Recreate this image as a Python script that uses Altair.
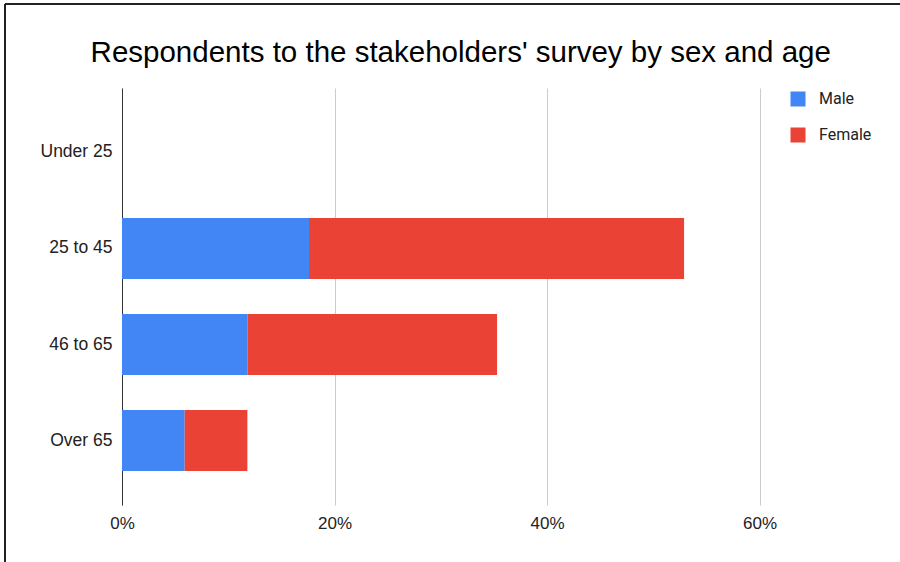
import altair as alt
import pandas as pd

ages = ["Under 25", "25 to 45", "46 to 65", "Over 65"]
male = [0.0, 0.176, 0.118, 0.059]
female = [0.0, 0.353, 0.235, 0.059]
sexes = ["Male", "Female"]
colors = ["#4285F4", "#EA4335"]
x_ticks = [0, 0.2, 0.4, 0.6]

rows = []
for i, a in enumerate(ages):
    rows.append({"age": a, "sex": "Male", "value": male[i], "ord": 0})
    rows.append({"age": a, "sex": "Female", "value": female[i], "ord": 1})
df = pd.DataFrame(rows)

FONT = "Liberation Sans"

bars = alt.Chart(df).mark_bar().encode(
    y=alt.Y("age:N", sort=ages, title=None,
            scale=alt.Scale(paddingInner=0.365, paddingOuter=0.354),
            axis=alt.Axis(domain=True, domainColor="#333333", domainWidth=1,
                          ticks=False, labelPadding=10, labelFontSize=17.5,
                          labelColor="#222222", labelFont=FONT, grid=False)),
    x=alt.X("value:Q", stack="zero", title=None,
            scale=alt.Scale(domain=[0, 0.6], nice=False),
            axis=alt.Axis(values=x_ticks, format=".0%", domain=False, ticks=False,
                          labelPadding=10, labelFontSize=17, labelColor="#222222",
                          labelFont=FONT, grid=True, gridColor="#cccccc",
                          gridWidth=1, labelFlush=False)),
    color=alt.Color("sex:N", sort=sexes,
                    scale=alt.Scale(domain=sexes, range=colors),
                    legend=alt.Legend(title=None, orient="none", legendX=668, legendY=3,
                                      symbolType="square", symbolSize=225,
                                      symbolStrokeWidth=0, labelFontSize=16,
                                      labelColor="#222222", labelFont="Roboto",
                                      labelOffset=13, rowPadding=20)),
    order=alt.Order("ord:Q"),
)

frame = alt.Chart(df).mark_rule(color="#222222", strokeWidth=2).encode(
    x=alt.value(-117), x2=alt.value(800), y=alt.value(-84)
) + alt.Chart(df).mark_rule(color="#222222", strokeWidth=2).encode(
    x=alt.value(-117), y=alt.value(-84), y2=alt.value(480)
)

chart = (bars + frame).properties(
    width=637.5, height=417,
    autosize=alt.AutoSizeParams(type="none"),
    padding={"left": 122, "top": 88, "right": 140, "bottom": 57},
    title=alt.TitleParams("Respondents to the stakeholders' survey by sex and age",
                          fontSize=29.5, font=FONT, fontWeight="normal",
                          color="#000000", anchor="middle", frame="group",
                          dx=20, dy=85, offset=20),
).configure(background="white").configure_view(stroke=None)

chart.save("out.html", embed_options={"renderer": "svg", "actions": False})
